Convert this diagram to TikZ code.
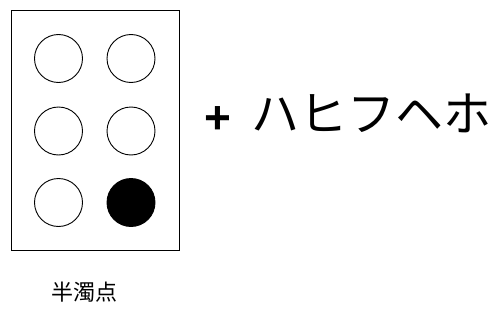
\documentclass[tikz,border=0pt]{standalone}
\usepackage{fontspec}
\setmainfont{Liberation Sans}
\newfontfamily\cjk{Noto Sans CJK JP}
\begin{document}
\begin{tikzpicture}[x=1pt,y=-1pt,
  dot/.style={circle,draw=black,line width=0.9pt,minimum size=48pt,inner sep=0pt},
  filled/.style={dot,fill=black},
  frame/.style={draw=black,line width=0.9pt}]
\useasboundingbox (0,0) rectangle (504,324);
\draw[frame] (11,10) rectangle (179,250);
\node[dot] (d1) at (58.5,58.5) {};
\node[dot] (d4) at (131,58.5) {};
\node[dot] (d2) at (58.5,131) {};
\node[dot] (d5) at (131,131) {};
\node[dot] (d3) at (58.5,202.5) {};
\node[filled] (d6) at (131,202.5) {};
\node[font=\bfseries\fontsize{46}{46}\selectfont,inner sep=0pt] (plus) at (217.5,120) {+};
\node[font=\cjk\fontsize{48}{48}\selectfont,inner sep=0pt,anchor=west] (kana) at (251,113) {ハヒフヘホ};
\node[font=\cjk\fontsize{22}{22}\selectfont,inner sep=0pt] (label) at (85,292) {半濁点};
\end{tikzpicture}
\end{document}
